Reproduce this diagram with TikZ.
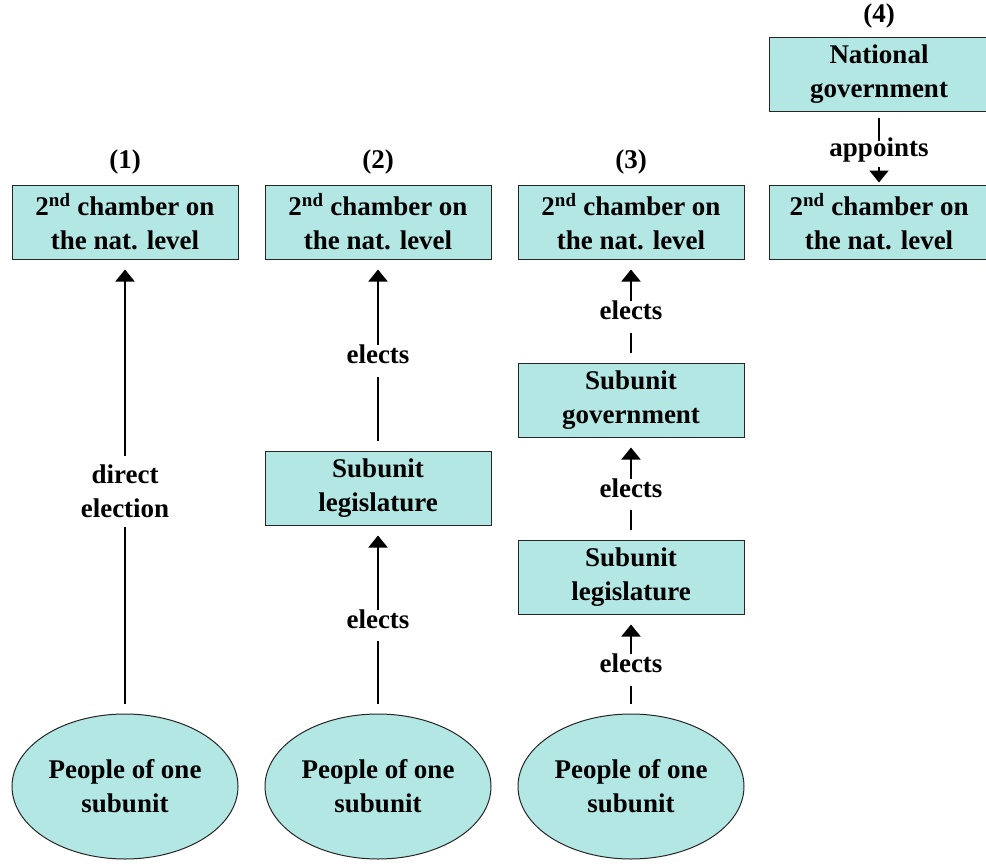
\documentclass[tikz,border=0pt]{standalone}
\usepackage{fontspec}
\setmainfont{Liberation Serif}
\usetikzlibrary{positioning,shapes.geometric,arrows.meta}
\definecolor{boxcyan}{RGB}{178,231,228}

\begin{document}
\begin{tikzpicture}[x=1pt,y=1pt,
    font=\fontsize{27}{34}\selectfont\bfseries,
    chamber/.style={draw=black!85, fill=boxcyan, line width=1pt, minimum width=226pt,
      minimum height=74pt, inner sep=0pt, align=center},
    people/.style={ellipse, draw=black!85, fill=boxcyan, line width=1pt, minimum width=226pt,
      minimum height=145pt, inner sep=0pt, align=center},
    num/.style={inner sep=0pt},
    verb/.style={fill=white, inner xsep=6pt, inner ysep=11pt, text height=0.72em,
      text depth=0.22em, yshift=-6pt},
    verbtwo/.style={fill=white, inner sep=9pt, align=center, yshift=-5pt},
    elect/.style={line width=2pt, -{Triangle[width=19pt,length=12pt]},
      shorten >=10pt, shorten <=10pt},
  ]
  \useasboundingbox (0,0) rectangle (986,-865);

  \node[chamber] (ch1) at (125,-222) {2\textsuperscript{nd} chamber on\\the nat. level};
  \node[chamber, right=26pt of ch1] (ch2) {2\textsuperscript{nd} chamber on\\the nat. level};
  \node[chamber, right=26pt of ch2] (ch3) {2\textsuperscript{nd} chamber on\\the nat. level};
  \node[chamber, right=24pt of ch3, minimum width=220pt] (ch4) {2\textsuperscript{nd} chamber on\\the nat. level};
  \node[chamber, above=73pt of ch4, minimum width=220pt] (nat4) {National\\government};

  \node[num, above=10pt of ch1] (n1) {(1)};
  \node[num, above=10pt of ch2] (n2) {(2)};
  \node[num, above=10pt of ch3] (n3) {(3)};
  \node[num, above=8pt of nat4] (n4) {(4)};

  \node[chamber, below=191pt of ch2] (leg2) {Subunit\\legislature};
  \node[chamber, below=103pt of ch3] (gov3) {Subunit\\government};
  \node[chamber, below=102pt of gov3] (leg3) {Subunit\\legislature};

  \node[people, below=454pt of ch1] (pp1) {People of one\\subunit};
  \node[people, right=26pt of pp1] (pp2) {People of one\\subunit};
  \node[people, right=26pt of pp2] (pp3) {People of one\\subunit};

  \draw[elect] (pp1) -- node[verbtwo] {direct\\election} (ch1);
  \draw[elect] (pp2) -- node[verb] {elects} (leg2);
  \draw[elect] (leg2) -- node[verb] {elects} (ch2);
  \draw[elect] (pp3) -- node[verb] {elects} (leg3);
  \draw[elect] (leg3) -- node[verb] {elects} (gov3);
  \draw[elect] (gov3) -- node[verb] {elects} (ch3);
  \draw[elect, shorten <=6pt, shorten >=2pt] (nat4) -- node[verb, inner ysep=8pt] {appoints} (ch4);
\end{tikzpicture}
\end{document}
